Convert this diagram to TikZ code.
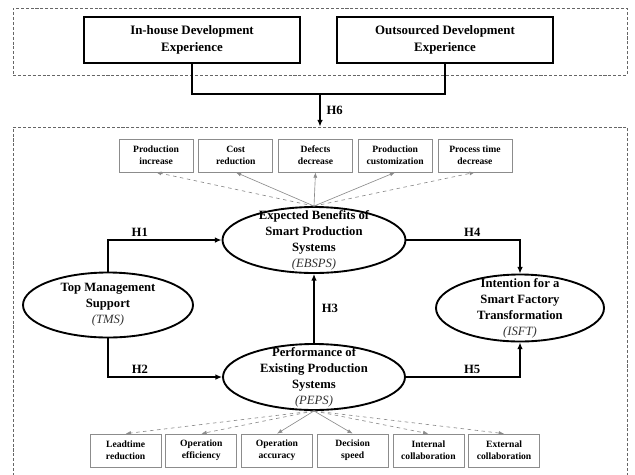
\documentclass[tikz,border=0pt]{standalone}
\usepackage{fontspec}
\setmainfont{Liberation Serif}
\usepackage{tikz}
\usetikzlibrary{arrows.meta,positioning,calc,shapes.geometric}
\tikzset{
  frame/.style={draw=black!60,dash pattern=on 2.6pt off 1.6pt,line width=0.75pt,inner sep=0pt},
  cbox/.style={draw,line width=1.6pt,minimum width=6.48cm,minimum height=1.38cm,align=center,
               font=\bfseries\fontsize{11}{14.5}\selectfont},
  oval/.style={draw,ellipse,line width=1.6pt,inner sep=0pt},
  otext/.style={align=center,inner sep=0pt,font=\bfseries\fontsize{10.8}{13.6}\selectfont},
  ind/.style={draw=black!45,line width=0.6pt,align=center,minimum height=0.99cm,inner sep=1pt,
              font=\bfseries\fontsize{8.2}{10.5}\selectfont},   % indicator boxes
  ar/.style={-{Latex[length=2mm,width=1.7mm]},line width=1.3pt},
  gar/.style={-{Latex[length=1.6mm,width=1.2mm]},draw=black!45,line width=0.55pt},
  hyp/.style={font=\bfseries\fontsize{10.8}{13}\selectfont,inner sep=2pt}
}
\newcommand{\abbtxt}[1]{{\normalfont\itshape\color{black!80}(#1)}}

\begin{document}
\begin{tikzpicture}
  \useasboundingbox (0,0) rectangle (19.05,-14.22);
  % dashed groups
  \node[frame,minimum width=18.42cm,minimum height=2.01cm] (exp) at (9.6,-1.245) {};
  \node[frame,minimum width=18.42cm,minimum height=10.79cm] (sys) at (9.6,-9.205) {};
  % development experience
  \node[cbox] (inhouse) at (5.76,-1.2) {In-house Development\\Experience};
  \node[cbox] (outsrc) at (13.35,-1.2) {Outsourced Development\\Experience};
  \coordinate (join) at (9.6,-2.82);
  \draw[line width=1.3pt] (inhouse.south) |- (join) -| (outsrc.south);
  \draw[ar] (join) -- node[hyp,right=3pt]{H6} (join |- sys.north);
  % constructs
  \node[oval,minimum width=5.1cm,minimum height=1.95cm] (tms) at (3.24,-9.15) {};
  \node[otext] (tms-t) at (tms) {Top Management\\Support\\\abbtxt{TMS}};
  \node[oval,minimum width=5.49cm,minimum height=1.98cm] (ebsps) at (9.42,-7.2) {};
  \node[otext] (ebsps-t) at (ebsps) {Expected Benefits of\\Smart Production\\Systems\\\abbtxt{EBSPS}};
  \node[oval,minimum width=5.46cm,minimum height=1.98cm] (peps) at (9.42,-11.31) {};
  \node[otext] (peps-t) at (peps) {Performance of\\Existing Production\\Systems\\\abbtxt{PEPS}};
  \node[oval,minimum width=5.04cm,minimum height=2.01cm] (isft) at (15.6,-9.24) {};
  \node[otext] (isft-t) at (isft) {Intention for a\\Smart Factory\\Transformation\\\abbtxt{ISFT}};
  % hypotheses
  \draw[ar] (tms.north) |- node[hyp,above,pos=0.64]{H1} (ebsps.west);
  \draw[ar] (tms.south) |- node[hyp,above,pos=0.64]{H2} (peps.west);
  \draw[ar] (peps.north) -- node[hyp,right=4pt]{H3} (ebsps.south);
  \draw[ar] (ebsps.east) -| node[hyp,above,pos=0.29]{H4} (isft.north);
  \draw[ar] (peps.east) -| node[hyp,above,pos=0.29]{H5} (isft.south);
  % benefit indicators
  \node[ind,minimum width=2.22cm] (defc) at (9.465,-4.665) {Defects\\decrease};
  \node[ind,minimum width=2.22cm,left=0.15cm of defc] (cost) {Cost\\reduction};
  \node[ind,minimum width=2.22cm,left=0.15cm of cost] (pinc) {Production\\increase};
  \node[ind,minimum width=2.22cm,right=0.15cm of defc] (cust) {Production\\customization};
  \node[ind,minimum width=2.22cm,right=0.15cm of cust] (ptime) {Process time\\decrease};
  \foreach \n in {cost,defc,cust} \draw[gar] (ebsps.north) -- (\n.south);
  \foreach \n in {pinc,ptime} \draw[gar,dashed] (ebsps.north) -- (\n.south);
  % performance indicators
  \node[ind,minimum width=2.13cm] (opacc) at (8.31,-13.515) {Operation\\accuracy};
  \node[ind,minimum width=2.13cm,left=0.12cm of opacc] (opeff) {Operation\\efficiency};
  \node[ind,minimum width=2.13cm,left=0.12cm of opeff] (lead) {Leadtime\\reduction};
  \node[ind,minimum width=2.13cm,right=0.12cm of opacc] (decsp) {Decision\\speed};
  \node[ind,minimum width=2.13cm,right=0.12cm of decsp] (intc) {Internal\\collaboration};
  \node[ind,minimum width=2.13cm,right=0.12cm of intc] (extc) {External\\collaboration};
  \foreach \n in {opacc,decsp} \draw[gar] (peps.south) -- (\n.north);
  \foreach \n in {lead,opeff,intc,extc} \draw[gar,dashed] (peps.south) -- (\n.north);
\end{tikzpicture}
\end{document}
